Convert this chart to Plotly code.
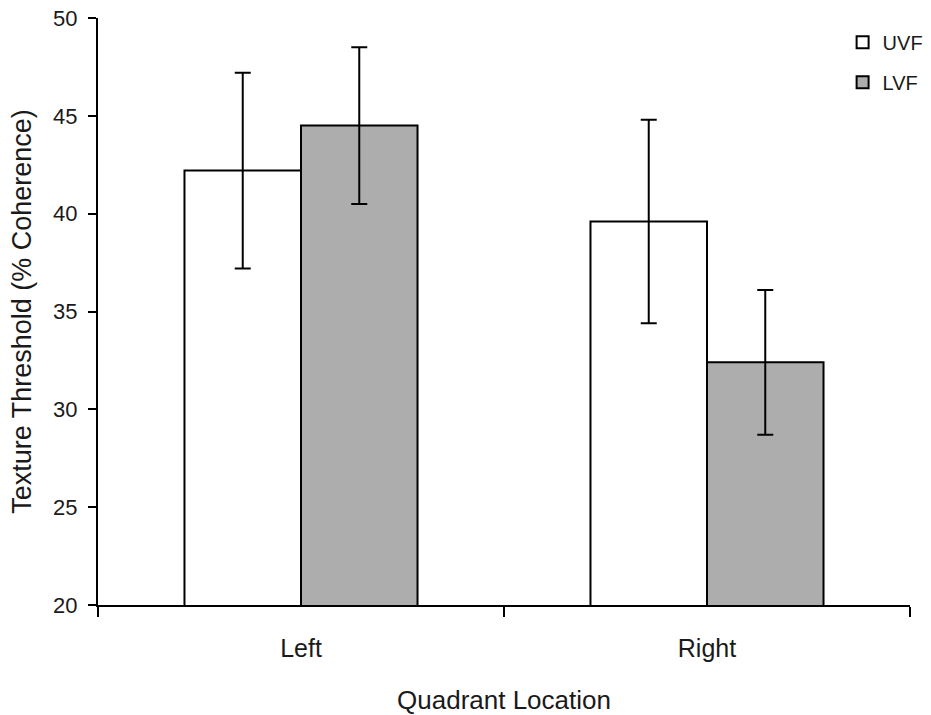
import plotly.graph_objects as go

# Texture thresholds by quadrant location, upper vs lower visual field
categories = ["Left", "Right"]
uvf_values = [42.2, 39.6]
uvf_errors = [5.0, 5.2]
lvf_values = [44.5, 32.4]
lvf_errors = [4.0, 3.7]

y_ticks = [20, 25, 30, 35, 40, 45, 50]

FONT = "Arial, Liberation Sans, sans-serif"
INK = "#1a1a1a"

fig = go.Figure()

fig.add_trace(go.Bar(
    name="UVF",
    x=categories,
    y=uvf_values,
    legendgroup="uvf",
    marker=dict(color="white", line=dict(color="black", width=2)),
    error_y=dict(type="data", array=uvf_errors, visible=True,
                 color="black", thickness=2, width=8),
))

fig.add_trace(go.Bar(
    name="LVF",
    x=categories,
    y=lvf_values,
    legendgroup="lvf",
    marker=dict(color="#adadad", line=dict(color="black", width=2)),
    error_y=dict(type="data", array=lvf_errors, visible=True,
                 color="black", thickness=2, width=8),
))

fig.update_layout(
    width=931,
    height=715,
    margin=dict(l=98, r=21, t=18, b=110, autoexpand=False),
    paper_bgcolor="white",
    plot_bgcolor="white",
    barmode="group",
    bargap=0.426,
    bargroupgap=0,
    font=dict(family=FONT, color=INK, size=20),
    showlegend=True,
    legend=dict(
        x=0.917, y=0.992, xanchor="left", yanchor="top",
        font=dict(family=FONT, size=20, color=INK),
        traceorder="grouped",
        tracegroupgap=11,
        bgcolor="rgba(0,0,0,0)",
        borderwidth=0,
    ),
    xaxis=dict(
        type="category",
        tickson="boundaries",
        ticks="outside",
        ticklen=10,
        tickwidth=2,
        tickcolor="black",
        showline=True,
        linewidth=2,
        linecolor="black",
        showgrid=False,
        zeroline=False,
        tickfont=dict(family=FONT, size=25, color=INK),
        ticklabelstandoff=20,
        title=dict(text="Quadrant Location",
                   font=dict(family=FONT, size=26, color=INK),
                   standoff=30),
        automargin=False,
    ),
    yaxis=dict(
        range=[20, 50],
        tickvals=y_ticks,
        ticktext=[str(v) for v in y_ticks],
        ticks="outside",
        ticklen=8,
        tickwidth=2,
        tickcolor="black",
        showline=True,
        linewidth=2,
        linecolor="black",
        showgrid=False,
        zeroline=False,
        tickfont=dict(family=FONT, size=22, color=INK),
        ticklabelstandoff=6,
        title=dict(text="Texture Threshold (% Coherence)",
                   font=dict(family=FONT, size=27, color=INK),
                   standoff=14),
        automargin=False,
    ),
)

fig.write_html("out.html")
